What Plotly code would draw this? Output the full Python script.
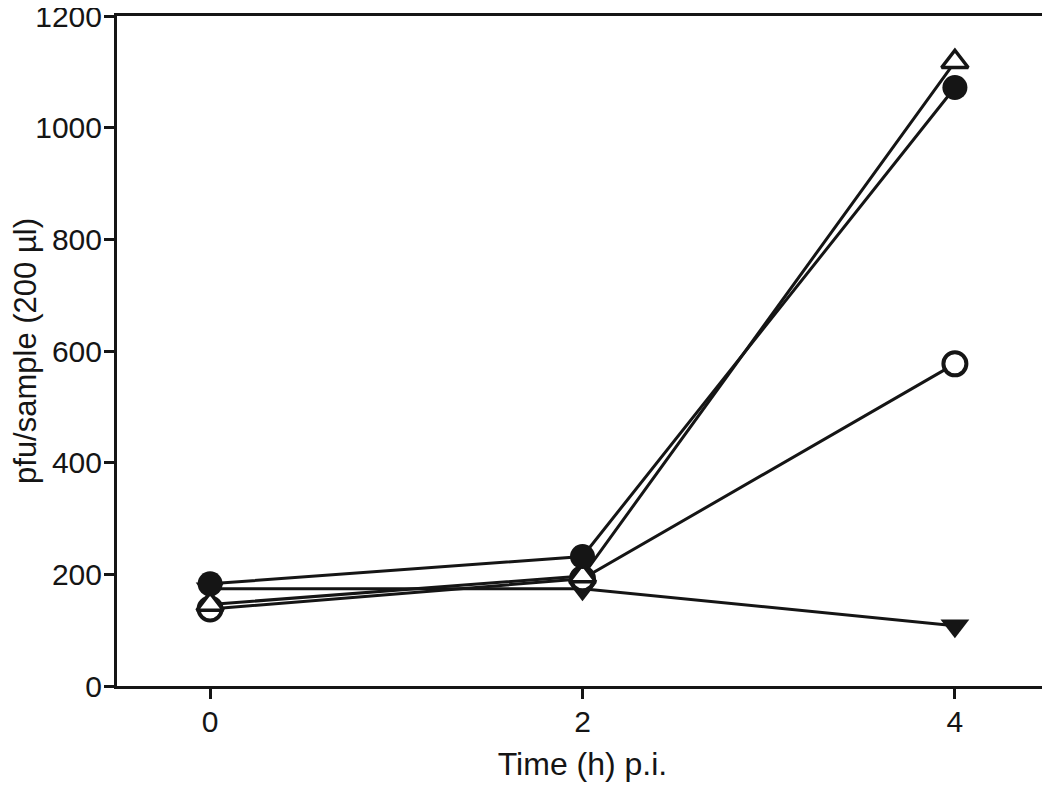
import plotly.graph_objects as go

time_h = [0, 2, 4]
series_names = ["filled circle", "open circle", "down triangle", "open triangle"]
down_triangle = [174, 174, 108]
open_circle = [138, 192, 577]
open_triangle = [146, 197, 1118]
filled_circle = [183, 232, 1072]

x_ticks = [0, 2, 4]
y_ticks = [0, 200, 400, 600, 800, 1000, 1200]

INK = "#151515"
fig = go.Figure()

def add(y, symbol, size, fill, lw):
    fig.add_trace(go.Scatter(
        x=time_h, y=y, mode="lines+markers",
        line=dict(color=INK, width=3),
        marker=dict(symbol=symbol, size=size, color=fill,
                    line=dict(color=INK, width=lw)),
        showlegend=False, cliponaxis=False))

add(down_triangle, "triangle-down", 25, INK, 0)
add(open_circle, "circle", 23, "white", 4)
add(open_triangle, "triangle-up", 23, "white", 3.5)
add(filled_circle, "circle", 25, INK, 0)

FAM = "Liberation Sans, Arial, sans-serif"
tick_font = dict(family=FAM, size=30, color=INK)
# page body has an 8px default margin, so the figure is 8px smaller and offset
fig.update_layout(
    width=1042, height=777,
    margin=dict(l=109, r=2, t=8, b=99),
    paper_bgcolor="white", plot_bgcolor="white",
    font=tick_font,
    xaxis=dict(range=[-0.5, 4.5], tickvals=x_ticks, ticktext=[str(v) for v in x_ticks],
               showgrid=False, zeroline=False, showline=True, linecolor=INK, linewidth=3,
               mirror=True, ticks="outside", ticklen=10, tickwidth=3, tickcolor=INK,
               automargin=False, ticklabeloverflow="allow", ticklabelstandoff=-3,
               title=dict(text="Time (h) p.i.", font=dict(family=FAM, size=32, color=INK), standoff=16),
               tickfont=tick_font),
    yaxis=dict(range=[0, 1200], tickvals=y_ticks, ticktext=[str(v) for v in y_ticks],
               showgrid=False, zeroline=False, showline=True, linecolor=INK, linewidth=3,
               mirror=True, ticks="outside", ticklen=10, tickwidth=3, tickcolor=INK,
               automargin=False, ticklabeloverflow="allow", ticklabelstandoff=-4,
               title=dict(text="pfu/sample (200 µl)", font=dict(family=FAM, size=31, color=INK), standoff=2),
               tickfont=tick_font),
)

fig.write_html("out.html")
